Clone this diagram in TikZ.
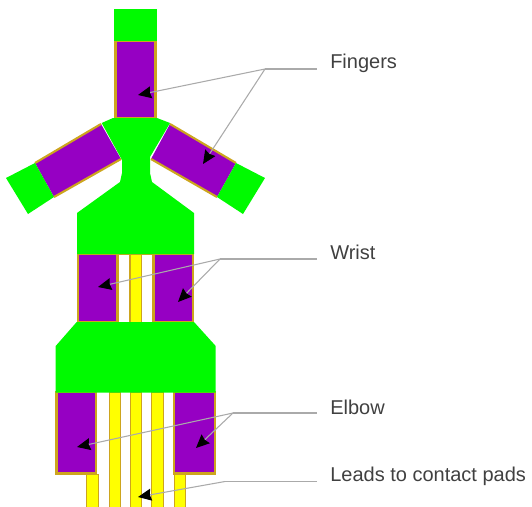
\documentclass[tikz,border=0pt]{standalone}
\usepackage{fontspec}
\setmainfont{Liberation Sans}
\usetikzlibrary{arrows.meta}
\definecolor{padgreen}{RGB}{0,250,0}
\definecolor{metalpurple}{RGB}{150,0,195}
\definecolor{edgegold}{RGB}{205,165,30}
\definecolor{leadyellow}{RGB}{255,255,0}
\definecolor{calloutgray}{RGB}{170,170,170}
\tikzset{
    pad/.style={fill=padgreen, draw=none},
    metal/.style={fill=metalpurple, draw=edgegold, line width=1.6pt},
    metalfill/.style={fill=metalpurple, draw=none},
    metaledge/.style={draw=edgegold, line width=1.6pt},
    lead/.style={fill=leadyellow, draw=edgegold, line width=0.5pt},
    callout/.style={draw=calloutgray, line width=0.8pt},
    pointer/.style={callout, -{Stealth[black, length=10pt, width=9pt, inset=1pt]}},
    partlabel/.style={anchor=west, inner sep=0pt, text=black!75, font=\fontsize{15pt}{18pt}\selectfont},
}
\begin{document}
\begin{tikzpicture}[x=0.75pt, y=-0.75pt]
            \useasboundingbox (0,0) rectangle (532,507);
            % ---------- leads ----------
            \foreach \lx/\ly in {86.7/474, 109/392, 130/392, 151.7/392, 174/474} {
                \draw[lead] (\lx,\ly) rectangle (\lx+11.3,507);
            }
            \draw[lead] (130,254) rectangle (141,322);
            \draw[lead, fill=white] (118.5,254) rectangle (129.5,322);
            \draw[lead, fill=white] (141.5,254) rectangle (152.5,322);
            % ---------- fingers ----------
            \draw[metal] (115.5,41) rectangle (155.5,118);
            \fill[metalfill] (101,124) -- (35,163) -- (54,197) -- (121,159) -- cycle;
            \draw[metaledge] (101,124) -- (35,163) (54,197) -- (121,159);
            \fill[metalfill] (170,124) -- (236,163) -- (217,197) -- (151,159) -- cycle;
            \draw[metaledge] (170,124) -- (236,163) (217,197) -- (151,159);
            \fill[pad] (114,9) rectangle (157,41);
            \fill[pad] (35,163) -- (6,178) -- (28,214) -- (54,197) -- cycle;
            \fill[pad] (236,163) -- (265,178) -- (243,214) -- (217,197) -- cycle;
            % ---------- wrist ----------
            \draw[metal] (78,254) rectangle (117.5,322);
            \draw[metal] (154,254) rectangle (193,322);
            % ---------- elbow ----------
            \draw[metal] (56.5,392) rectangle (96,473.5);
            \draw[metal] (174,392) rectangle (215,473.5);
            % ---------- palm ----------
            \fill[pad] (101.7,123) -- (113,118) -- (157,118) -- (170,123) -- (150,157)
                -- (150,173) -- (152,182) -- (194,213) -- (194,254) -- (77,254)
                -- (77,213) -- (120,182) -- (122,173) -- (122,160) -- cycle;
            \fill[pad] (76.7,322) -- (194,322) -- (215.7,346) -- (215.7,392.7)
                -- (55.7,392.7) -- (55.7,346) -- cycle;
            % ---------- callouts ----------
            \node[partlabel] (fingers) at (330,63) {Fingers};
            \node[partlabel] (wrist) at (330,252) {Wrist};
            \node[partlabel] (elbow) at (330,407) {Elbow};
            \node[partlabel] (leads) at (330,476) {Leads to contact pads};
            \coordinate (fingersend) at (317,69);
            \coordinate (fingersfork) at (265,69);
            \coordinate (fingerup) at (138,95);
            \coordinate (fingerright) at (203,164);
            \draw[callout] (fingersend) -- (fingersfork);
            \draw[pointer] (fingersfork) -- (fingerup);
            \draw[pointer] (fingersfork) -- (fingerright);
            \coordinate (wristend) at (317,259);
            \coordinate (wristfork) at (220,259);
            \coordinate (wristleft) at (98,287);
            \coordinate (wristright) at (178,302);
            \draw[callout] (wristend) -- (wristfork);
            \draw[pointer] (wristfork) -- (wristleft);
            \draw[pointer] (wristfork) -- (wristright);
            \coordinate (elbowend) at (317,413);
            \coordinate (elbowfork) at (233,413);
            \coordinate (elbowleft) at (77,447);
            \coordinate (elbowright) at (196,448);
            \draw[callout] (elbowend) -- (elbowfork);
            \draw[pointer] (elbowfork) -- (elbowleft);
            \draw[pointer] (elbowfork) -- (elbowright);
            \coordinate (leadsend) at (317,481.5);
            \coordinate (leadsbend) at (225,481.5);
            \coordinate (leadstip) at (138,497);
            \draw[callout] (leadsend) -- (leadsbend);
            \draw[pointer] (leadsbend) -- (leadstip);
\end{tikzpicture}
\end{document}
